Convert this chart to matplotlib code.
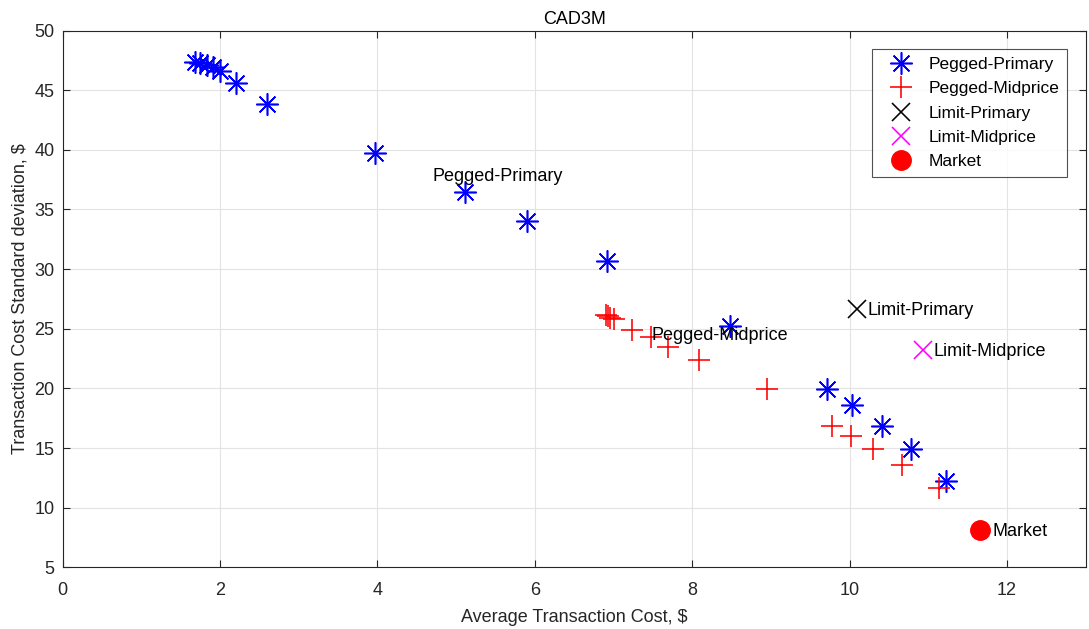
import matplotlib
matplotlib.use("Agg")
import matplotlib.pyplot as plt

plt.rcParams['font.family'] = ['Liberation Sans', 'DejaVu Sans']

# Data
pp_x = [1.68, 1.75, 1.84, 1.91, 2.00, 2.20, 2.60, 3.97, 5.11, 5.90, 6.92, 8.48, 9.71, 10.03, 10.41, 10.78, 11.23]
pp_y = [47.4, 47.3, 47.1, 46.9, 46.6, 45.6, 43.8, 39.7, 36.5, 34.0, 30.7, 25.2, 19.95, 18.6, 16.85, 14.95, 12.25]

pm_x = [6.91, 6.93, 6.96, 7.00, 7.24, 7.47, 7.69, 8.08, 8.95, 9.78, 10.02, 10.30, 10.67, 11.14]
pm_y = [26.2, 26.05, 25.9, 25.8, 24.9, 24.35, 23.45, 22.4, 19.95, 16.85, 16.0, 14.95, 13.6, 11.65]

lp_x = [10.10]
lp_y = [26.7]
lm_x = [10.93]
lm_y = [23.2]
mk_x = [11.66]
mk_y = [8.1]

labels = ['Pegged-Primary', 'Pegged-Midprice', 'Limit-Primary', 'Limit-Midprice', 'Market']
ann_x = [4.70, 7.48, 10.23, 11.07, 11.81]
ann_y = [37.8, 24.45, 26.5, 23.1, 8.0]

FS = 13

fig = plt.figure(figsize=(10.89, 6.29), dpi=100)
ax = fig.add_axes([0.0575, 0.0978, 0.9395, 0.8537])

dark = (0.15, 0.15, 0.15)
ast = (8, 2, 0)
ax.plot(pp_x, pp_y, linestyle='none', marker=ast, markersize=16, markeredgewidth=1.15,
        color='#0000ff', label=labels[0])
ax.plot(pm_x, pm_y, linestyle='none', marker='+', markersize=16, markeredgewidth=1.15,
        color='#ff0000', label=labels[1])
ax.plot(lp_x, lp_y, linestyle='none', marker='x', markersize=13, markeredgewidth=1.15,
        color='#000000', label=labels[2])
ax.plot(lm_x, lm_y, linestyle='none', marker='x', markersize=13, markeredgewidth=1.15,
        color='#ff00ff', label=labels[3])
ax.plot(mk_x, mk_y, linestyle='none', marker='o', markersize=14,
        color='#ff0000', label=labels[4])

for t, x, y in zip(labels, ann_x, ann_y):
    ax.text(x, y, t, ha='left', va='center', fontsize=FS, color='black')

ax.set_xlim(0, 13)
ax.set_ylim(5, 50)
ax.set_xticks([0, 2, 4, 6, 8, 10, 12])
ax.set_yticks(range(5, 51, 5))
ax.grid(True, color='#e3e3e3', linewidth=0.8)
ax.set_axisbelow(True)
ax.tick_params(axis='both', direction='in', length=5, top=True, right=True, labelsize=FS,
               colors=dark, width=0.8)
ax.tick_params(axis='x', pad=10.5)
ax.tick_params(axis='y', pad=6)
for s in ax.spines.values():
    s.set_color(dark)
    s.set_linewidth(0.8)

ax.set_title('CAD3M', fontsize=FS, color='black', pad=4.5)
ax.set_xlabel('Average Transaction Cost, $', fontsize=FS, color=dark, labelpad=7)
ax.set_ylabel('Transaction Cost Standard deviation, $', fontsize=FS, color=dark, labelpad=4)

leg = ax.legend(loc='upper right', fontsize=12.5, frameon=True, fancybox=False,
                edgecolor=dark, borderaxespad=1.07, handlelength=2.4,
                labelspacing=0.53, borderpad=0.45, handletextpad=0.4)
leg.get_frame().set_linewidth(0.8)

fig.savefig('out.png', dpi=100)
